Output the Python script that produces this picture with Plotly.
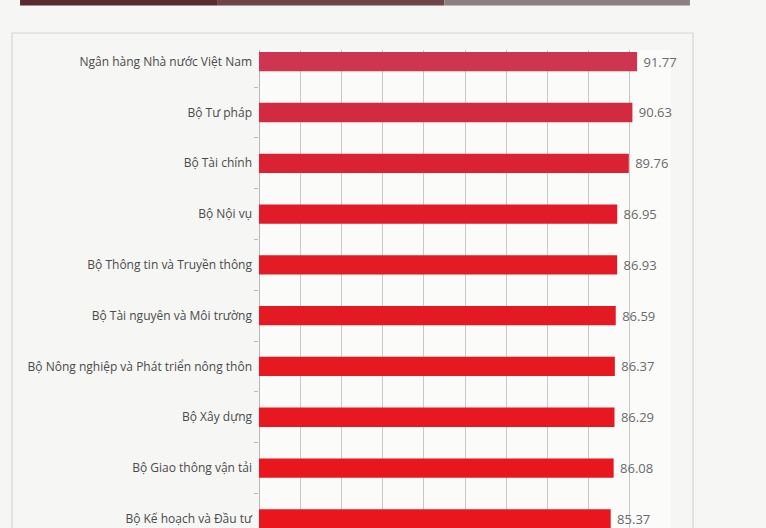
import plotly.graph_objects as go

categories = [
    "Ngân hàng Nhà nước Việt Nam",
    "Bộ Tư pháp",
    "Bộ Tài chính",
    "Bộ Nội vụ",
    "Bộ Thông tin và Truyền thông",
    "Bộ Tài nguyên và Môi trường",
    "Bộ Nông nghiệp và Phát triển nông thôn",
    "Bộ Xây dựng",
    "Bộ Giao thông vận tải",
    "Bộ Kế hoạch và Đầu tư",
]
values = [91.77, 90.63, 89.76, 86.95, 86.93, 86.59, 86.37, 86.29, 86.08, 85.37]
value_labels = ["91.77", "90.63", "89.76", "86.95", "86.93", "86.59", "86.37", "86.29", "86.08", "85.37"]
bar_colors = ["#cd3550", "#d22a40", "#da2233", "#e11c28", "#e31b25", "#e41a23",
              "#e61920", "#e7181f", "#e8171e", "#e9161d"]

fig = go.Figure()
fig.add_trace(go.Bar(
    y=categories, x=values, orientation="h",
    marker=dict(color=bar_colors, line=dict(width=0)),
    width=0.38,
    text=value_labels, textposition="outside",
    texttemplate=" %{text}",
    textfont=dict(family="Open Sans", size=13, color="#6a6a6a"),
    cliponaxis=False,
    hoverinfo="skip",
))

# frame and top strip (paper coords relative to plot area)
fig.add_shape(type="rect", xref="paper", yref="paper",
              x0=-0.5995, x1=1.0534, y0=-0.02, y1=1.0356,
              line=dict(color="#d6d6d4", width=1.2), fillcolor="rgba(0,0,0,0)", layer="below")
strip = [("#5b2a31", -0.58, -0.1), ("#6e4448", -0.1, 0.45), ("#8c8083", 0.45, 1.046)]
for c, a, b in strip:
    fig.add_shape(type="rect", xref="paper", yref="paper", x0=a, x1=b,
                  y0=1.093, y1=1.12, line=dict(width=0), fillcolor=c)

fig.update_layout(
    width=766, height=528,
    margin=dict(l=259, r=95, t=50, b=0),
    paper_bgcolor="#f6f6f4",
    plot_bgcolor="#fbfbfa",
    showlegend=False,
    xaxis=dict(range=[0, 100], dtick=10, showticklabels=False, showgrid=True,
               gridcolor="#c8c8c8", gridwidth=1, zeroline=True, zerolinecolor="#b8b8b8",
               zerolinewidth=1, showline=False, fixedrange=True),
    yaxis=dict(range=[9.18, -0.23], type="category", showgrid=False,
               tickson="boundaries", ticks="outside", ticklen=4, tickcolor="#b8b8b8",
               ticklabelstandoff=6,
               tickfont=dict(family="Open Sans", size=12, color="#4a4a4a"),
               showline=False, fixedrange=True),
)

fig.write_html(
    "out.html",
    config={"displayModeBar": False},
    post_script="document.body.style.margin='0';document.body.style.overflow='hidden';"
                "document.body.style.background='#f6f6f4';",
)
